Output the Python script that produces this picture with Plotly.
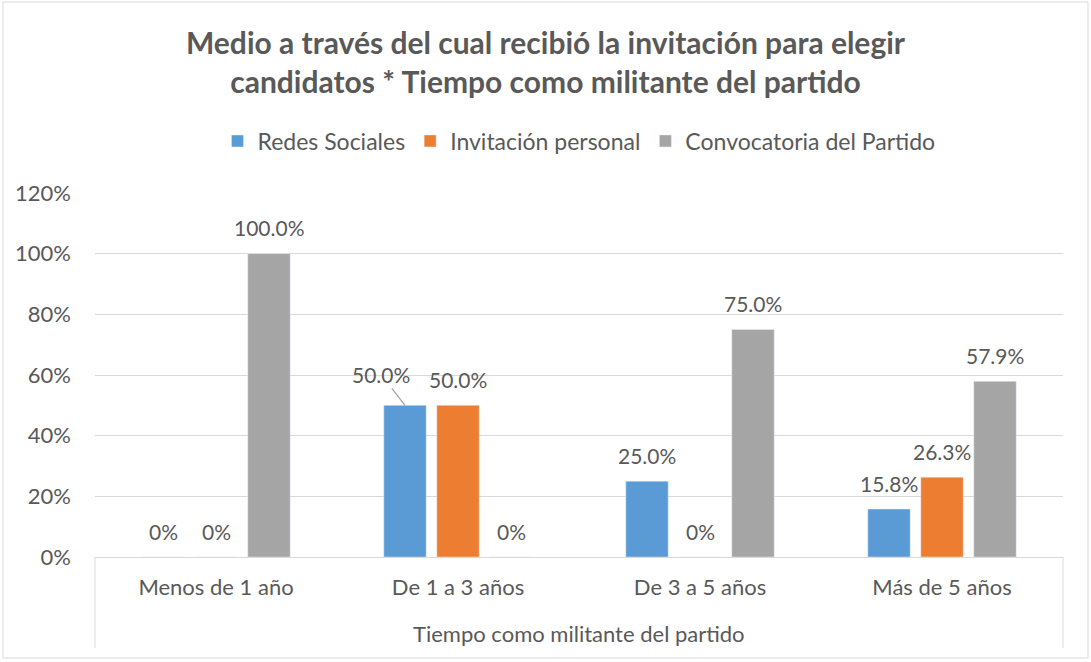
import plotly.graph_objects as go

categories = ["Menos de 1 año", "De 1 a 3 años", "De 3 a 5 años", "Más de 5 años"]
series_names = ["Redes Sociales", "Invitación personal", "Convocatoria del Partido"]
redes = [0.0, 0.5, 0.25, 0.158]
invitacion = [0.0, 0.5, 0.0, 0.263]
convocatoria = [1.0, 0.0, 0.75, 0.579]
y_ticks = [0, 0.2, 0.4, 0.6, 0.8, 1.0, 1.2]

colors = ["#5B9BD5", "#ED7D31", "#A5A5A5"]
txt = "#595959"
FONT = "Lato"
FS = 21
TFS = 22

W, H = 1091, 662
L, R, T, B = 95, 28, 193, 105
PW, PH = W - L - R, H - T - B

def fmt(v):
    return "0%" if v == 0 else f"{v*100:.1f}%"

bargap = 0.343
slot = (1 - bargap) / 3

fig = go.Figure()
all_series = [redes, invitacion, convocatoria]
for i, (name, vals) in enumerate(zip(series_names, all_series)):
    fig.add_trace(go.Bar(
        x=categories, y=vals, name=name, marker_color=colors[i],
        hoverinfo="skip",
    ))
    for j, v in enumerate(vals):
        xpos = j + (i - 1) * slot
        if i == 0 and j == 1:
            fig.add_annotation(
                x=xpos, y=v, xref="x", yref="y",
                text=fmt(v), showarrow=True, arrowhead=0, arrowwidth=1.3,
                arrowcolor="#A6A6A6", ax=-24, ay=-31, standoff=0,
                font=dict(size=FS, color=txt, family=FONT),
            )
        else:
            fig.add_annotation(
                x=xpos, y=v, xref="x", yref="y", text=fmt(v),
                showarrow=False, yanchor="middle", yshift=26,
                font=dict(size=FS, color=txt, family=FONT),
            )

fig.update_layout(
    width=W, height=H,
    margin=dict(l=L, r=R, t=T, b=B, autoexpand=False),
    paper_bgcolor="white", plot_bgcolor="white",
    barmode="group", bargap=bargap, bargroupgap=0.2,
    title=dict(
        text="<b>Medio a través del cual recibió la invitación para elegir<br>candidatos * Tiempo como militante del partido</b>",
        x=0.5, xanchor="center", y=1 - 54 / H, yanchor="middle",
        font=dict(size=30, color=txt, family=FONT),
    ),
    legend=dict(
        orientation="h", x=0.5, xanchor="center", y=1 - 141 / H, yref="container",
        yanchor="middle", font=dict(size=23, color=txt, family=FONT),
        itemclick=False, itemwidth=30,
    ),
    font=dict(family=FONT, color=txt),
    showlegend=True,
)

fig.update_yaxes(
    range=[0, 1.2], tickvals=y_ticks, tickformat=".0%",
    gridcolor="#D9D9D9", gridwidth=1, zeroline=False, automargin=False,
    showline=False, tickfont=dict(size=TFS, color=txt, family=FONT),
    ticklabelstandoff=23,
)
fig.update_xaxes(
    showline=True, linecolor="#D9D9D9", linewidth=1, automargin=False,
    tickfont=dict(size=TFS, color=txt, family=FONT),
    ticklabelstandoff=11,
)

fig.add_annotation(
    x=0.5, y=-(633 - 557) / PH, xref="paper", yref="paper",
    text="Tiempo como militante del partido", showarrow=False,
    yanchor="middle", font=dict(size=TFS, color=txt, family=FONT),
)

# category box lines
for xp in [0, 1]:
    fig.add_shape(type="line", xref="paper", yref="paper",
                  x0=xp, x1=xp, y0=0, y1=-(648 - 557) / PH,
                  line=dict(color="#D9D9D9", width=1))
# outer chart border
fig.add_shape(type="rect", xref="paper", yref="paper",
              x0=(3 - L) / PW, x1=(1088 - L) / PW,
              y0=-(658 - 557) / PH, y1=(557 - 2) / PH,
              line=dict(color="#D9D9D9", width=1))

fig.write_html("out.html", config={"displayModeBar": False},
               post_script="document.body.style.margin='0';document.body.style.overflow='hidden';")
